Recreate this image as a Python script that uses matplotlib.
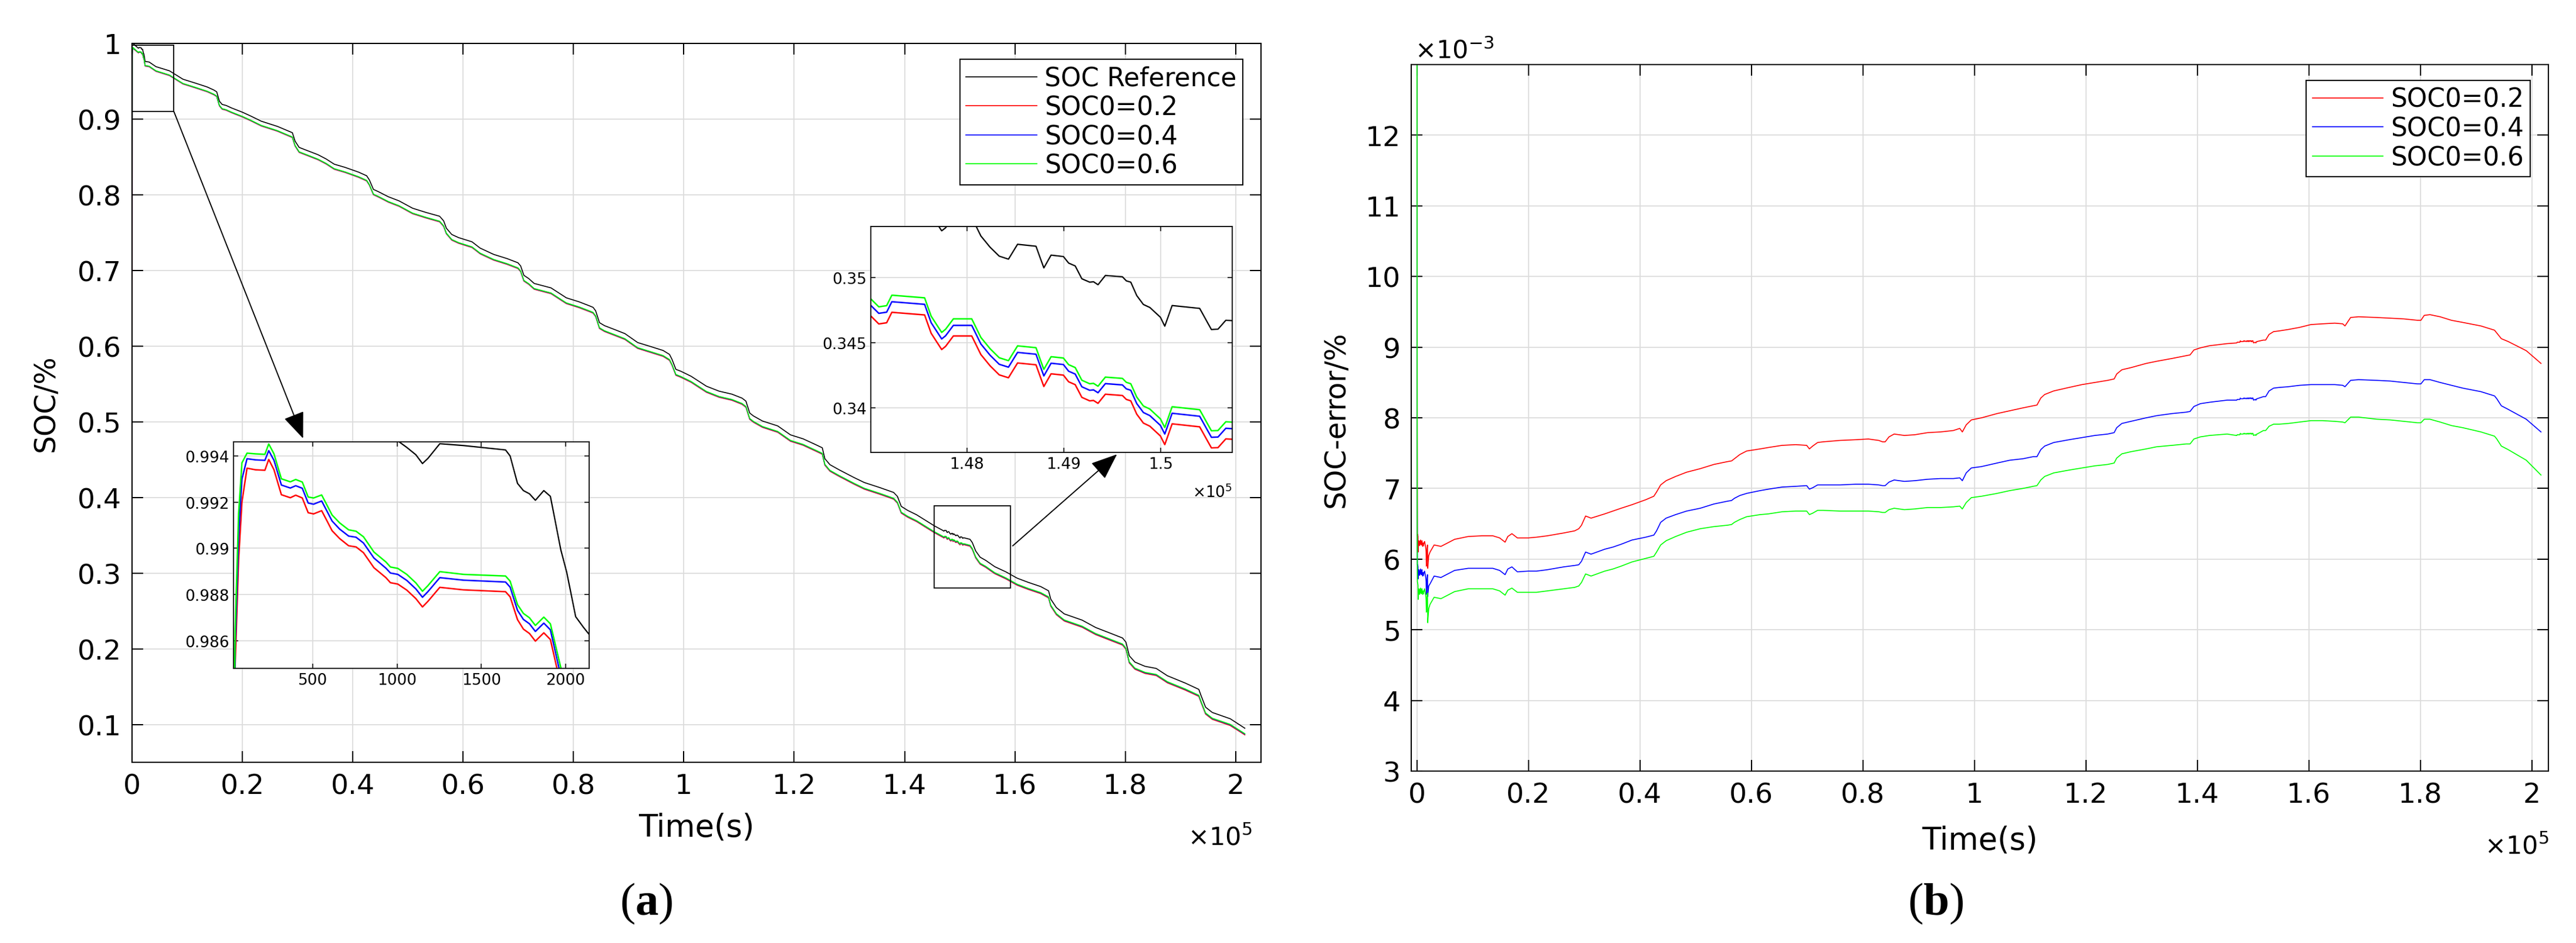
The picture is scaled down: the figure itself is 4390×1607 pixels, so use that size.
import numpy as np
import matplotlib
matplotlib.use("Agg")
import matplotlib.pyplot as plt
from matplotlib.patches import Rectangle
from matplotlib.ticker import FuncFormatter

plt.rcParams['font.family'] = ['DejaVu Sans']
plt.rcParams['mathtext.fontset'] = 'custom'
plt.rcParams['mathtext.bf'] = 'Liberation Serif:bold'

# ---- data ----
# time in seconds (denser inside the two zoomed windows)
time_s = [
    0, 15, 30, 40, 60, 80, 110, 160, 216, 239,
    270, 314, 367, 399, 438, 473, 505, 553, 615, 660,
    713, 757, 801, 863, 934, 961, 1005, 1058, 1112, 1151,
    1183, 1254, 1395, 1644, 1671, 1715, 1750, 1786, 1821, 1871,
    1910, 1972, 2007, 2060, 2105, 2140,
    2374, 3109, 4333, 6781, 9229, 11677, 13635, 14859, 15349, 15838,
    16328, 17062, 18042, 20000, 21469, 23427, 26365, 28323, 29058, 29547,
    30282, 31261, 33709, 35178, 36646, 38605, 41053, 42522, 43011, 43746,
    44725, 46438, 48397, 50845, 53293, 55741, 56475, 56965, 57944, 59168,
    61616, 63085, 65533, 67981, 69939, 70429, 71016, 71898, 72878, 75938,
    78708, 81015, 82862, 83554, 84016, 84708, 85631, 87477, 89324, 91632,
    93939, 96247, 97401, 97863, 98555, 99478, 101325, 104094, 106402, 108710,
    110556, 111248, 111941, 112633, 114248, 117017, 119326, 121632, 123941, 125095,
    125557, 126480, 128096, 130865, 132711, 135481, 138019, 138712, 139404, 140558,
    142200, 145366,
    147011, 147092, 147173, 147227, 147565, 147632, 147741, 147781, 147862, 148051,
    148146, 148241, 148335, 148430, 148524, 148714, 148795, 148870, 148997, 149051,
    149119, 149187, 149268, 149308, 149354, 149430, 149606, 149646, 149692, 149754,
    149822, 149889, 149998, 150043, 150119, 150403, 150524, 150592, 150673, 150741,
    151870, 152276, 152886, 153699, 154715, 156341, 158374, 160407, 162439, 164675,
    166098, 166504, 167520, 168943, 172195, 174634, 177073, 179512, 180122, 180732,
    181748, 183577, 185610, 187642, 190894, 193333, 193740, 194553, 195772, 199024,
    201666,
]

# reference SOC
soc_ref = [
    1.0, 1.0, 0.99995, 0.9999, 0.9999, 0.99985, 0.9998, 0.99975, 0.9997, 0.99995,
    0.99965, 0.99856, 0.99839, 0.99856, 0.99839, 0.99777, 0.99768, 0.99788, 0.99698, 0.99669,
    0.99632, 0.9963, 0.99601, 0.99539, 0.99499, 0.99473, 0.99465, 0.99437, 0.99405, 0.99367,
    0.99389, 0.99453, 0.99445, 0.99426, 0.9940, 0.99281, 0.9925, 0.99236, 0.99208, 0.9925,
    0.99225, 0.98993, 0.98896, 0.98704, 0.98659, 0.98627,
    0.9762, 0.9754, 0.9693, 0.9638, 0.9527, 0.9471, 0.9424, 0.9383, 0.9360, 0.9236,
    0.9194, 0.9180, 0.9147, 0.9091, 0.9042, 0.8972, 0.8903, 0.8842, 0.8820, 0.8709,
    0.8626, 0.8598, 0.8529, 0.8473, 0.8404, 0.8362, 0.8299, 0.8251, 0.8196, 0.8071,
    0.8038, 0.7974, 0.7919, 0.7822, 0.7766, 0.7716, 0.7655, 0.7558, 0.7475, 0.7434,
    0.7378, 0.7295, 0.7212, 0.7156, 0.7101, 0.7059, 0.6935, 0.6892, 0.6828, 0.6769,
    0.6638, 0.6585, 0.6533, 0.6512, 0.6467, 0.6310, 0.6270, 0.6218, 0.6165, 0.6047,
    0.5995, 0.5942, 0.5890, 0.5824, 0.5693, 0.5667, 0.5601, 0.5470, 0.5404, 0.5365,
    0.5312, 0.5273, 0.5115, 0.5076, 0.5010, 0.4945, 0.4827, 0.4774, 0.4696, 0.4656,
    0.4512, 0.4433, 0.4367, 0.4262, 0.4197, 0.4131, 0.4066, 0.4013, 0.3882, 0.3829,
    0.3770, 0.3626,
    0.3561, 0.3555, 0.3556, 0.3564, 0.3562, 0.3548, 0.35357, 0.3538, 0.3546, 0.3546,
    0.35317, 0.35231, 0.35163, 0.3514, 0.35254, 0.35239, 0.35073, 0.35171, 0.3516, 0.3511,
    0.35088, 0.3499, 0.34964, 0.34967, 0.34944, 0.35015, 0.35005, 0.34974, 0.34964, 0.34861,
    0.34793, 0.3477, 0.34695, 0.34627, 0.34785, 0.34763, 0.34601, 0.34604, 0.34672, 0.34669,
    0.3446, 0.3404, 0.3293, 0.3210, 0.3168, 0.3085, 0.3016, 0.2933, 0.2877, 0.2822,
    0.2766, 0.2655, 0.2544, 0.2461, 0.2378, 0.2281, 0.2212, 0.2142, 0.2087, 0.1907,
    0.1824, 0.1768, 0.1740, 0.1643, 0.1546, 0.1463, 0.1380, 0.1228, 0.1158, 0.1075,
    0.0950,
]

# SOC error (reference - estimate), in units of 1e-3
err_soc02 = [
    800, 400, 25.0, 14.9, 10.4, 7.85, 6.33, 6.35, 6.32, 6.10,
    6.25, 6.24, 6.20, 6.26, 6.21, 6.23, 6.19, 6.25, 6.22, 6.27,
    6.21, 6.24, 6.20, 6.23, 6.26, 6.22, 6.20, 6.18, 6.23, 6.21,
    6.19, 6.22, 6.25, 6.14, 6.10, 5.90, 6.00, 6.05, 6.10, 6.16,
    6.20, 5.87, 5.92, 5.98, 6.02, 6.05,
    6.10, 6.20, 6.18, 6.28, 6.32, 6.33, 6.33, 6.30, 6.27, 6.24,
    6.32, 6.36, 6.30, 6.30, 6.31, 6.33, 6.37, 6.40, 6.43, 6.48,
    6.61, 6.58, 6.64, 6.68, 6.72, 6.77, 6.84, 6.89, 6.95, 7.05,
    7.11, 7.17, 7.23, 7.28, 7.34, 7.38, 7.39, 7.42, 7.48, 7.53,
    7.56, 7.58, 7.61, 7.62, 7.61, 7.56, 7.60, 7.65, 7.66, 7.68,
    7.69, 7.70, 7.68, 7.66, 7.66, 7.73, 7.77, 7.75, 7.76, 7.79,
    7.80, 7.82, 7.85, 7.80, 7.90, 7.97, 8.00, 8.06, 8.10, 8.14,
    8.17, 8.18, 8.28, 8.33, 8.38, 8.43, 8.47, 8.50, 8.53, 8.55,
    8.62, 8.68, 8.71, 8.77, 8.80, 8.84, 8.88, 8.89, 8.96, 8.99,
    9.02, 9.05,
    9.06, 9.06, 9.07, 9.07, 9.07, 9.07, 9.09, 9.08, 9.08, 9.08,
    9.08, 9.08, 9.09, 9.08, 9.09, 9.08, 9.08, 9.09, 9.08, 9.09,
    9.09, 9.08, 9.09, 9.09, 9.08, 9.09, 9.09, 9.08, 9.09, 9.08,
    9.08, 9.09, 9.09, 9.07, 9.06, 9.07, 9.06, 9.07, 9.08, 9.08,
    9.10, 9.10, 9.18, 9.22, 9.23, 9.25, 9.28, 9.32, 9.33, 9.34,
    9.33, 9.30, 9.42, 9.43, 9.42, 9.41, 9.40, 9.38, 9.38, 9.45,
    9.46, 9.43, 9.38, 9.35, 9.30, 9.24, 9.20, 9.12, 9.08, 8.95,
    8.77,
]

err_soc04 = [
    600, 300, 23.0, 14.1, 9.4, 6.85, 5.92, 5.92, 5.89, 5.72,
    5.84, 5.82, 5.78, 5.85, 5.79, 5.81, 5.77, 5.83, 5.80, 5.86,
    5.79, 5.82, 5.78, 5.81, 5.85, 5.80, 5.78, 5.76, 5.81, 5.79,
    5.77, 5.80, 5.83, 5.72, 5.68, 5.50, 5.58, 5.63, 5.68, 5.74,
    5.78, 5.47, 5.52, 5.56, 5.60, 5.62,
    5.65, 5.76, 5.74, 5.84, 5.87, 5.87, 5.87, 5.84, 5.81, 5.78,
    5.86, 5.89, 5.82, 5.83, 5.83, 5.85, 5.89, 5.91, 5.92, 5.97,
    6.10, 6.07, 6.14, 6.17, 6.21, 6.27, 6.31, 6.34, 6.40, 6.52,
    6.58, 6.63, 6.68, 6.72, 6.78, 6.82, 6.83, 6.86, 6.90, 6.93,
    6.97, 6.99, 7.02, 7.03, 7.04, 6.99, 7.01, 7.05, 7.05, 7.05,
    7.06, 7.06, 7.05, 7.04, 7.04, 7.09, 7.12, 7.10, 7.11, 7.13,
    7.14, 7.14, 7.15, 7.11, 7.22, 7.29, 7.31, 7.36, 7.40, 7.42,
    7.45, 7.45, 7.55, 7.60, 7.65, 7.69, 7.72, 7.75, 7.77, 7.79,
    7.86, 7.92, 7.95, 8.00, 8.03, 8.06, 8.08, 8.09, 8.16, 8.20,
    8.22, 8.25,
    8.25, 8.25, 8.26, 8.26, 8.26, 8.26, 8.28, 8.27, 8.27, 8.27,
    8.27, 8.27, 8.28, 8.27, 8.28, 8.27, 8.27, 8.28, 8.27, 8.28,
    8.28, 8.27, 8.28, 8.28, 8.27, 8.28, 8.28, 8.27, 8.28, 8.27,
    8.27, 8.28, 8.28, 8.26, 8.25, 8.26, 8.25, 8.26, 8.27, 8.27,
    8.30, 8.30, 8.38, 8.42, 8.43, 8.44, 8.46, 8.47, 8.47, 8.47,
    8.46, 8.44, 8.53, 8.54, 8.53, 8.52, 8.50, 8.48, 8.48, 8.54,
    8.54, 8.50, 8.46, 8.42, 8.37, 8.31, 8.27, 8.17, 8.12, 7.98,
    7.80,
]

err_soc06 = [
    400, 200, 20.0, 13.4, 8.4, 6.15, 5.68, 5.66, 5.63, 5.43,
    5.56, 5.55, 5.51, 5.58, 5.52, 5.55, 5.50, 5.57, 5.54, 5.59,
    5.52, 5.56, 5.51, 5.55, 5.58, 5.54, 5.52, 5.50, 5.55, 5.53,
    5.51, 5.54, 5.58, 5.46, 5.42, 5.25, 5.32, 5.37, 5.42, 5.48,
    5.52, 5.10, 5.16, 5.22, 5.26, 5.30,
    5.36, 5.46, 5.44, 5.54, 5.58, 5.58, 5.58, 5.55, 5.52, 5.49,
    5.56, 5.59, 5.53, 5.53, 5.53, 5.55, 5.58, 5.60, 5.62, 5.67,
    5.79, 5.76, 5.83, 5.86, 5.90, 5.96, 6.01, 6.04, 6.10, 6.20,
    6.26, 6.32, 6.38, 6.43, 6.46, 6.48, 6.49, 6.52, 6.56, 6.60,
    6.63, 6.64, 6.67, 6.68, 6.68, 6.63, 6.65, 6.69, 6.69, 6.68,
    6.68, 6.68, 6.67, 6.66, 6.66, 6.70, 6.72, 6.70, 6.71, 6.73,
    6.73, 6.74, 6.75, 6.71, 6.80, 6.87, 6.89, 6.93, 6.97, 7.00,
    7.03, 7.04, 7.12, 7.17, 7.22, 7.26, 7.29, 7.32, 7.34, 7.36,
    7.43, 7.49, 7.52, 7.56, 7.59, 7.61, 7.63, 7.63, 7.70, 7.73,
    7.75, 7.77,
    7.75, 7.75, 7.76, 7.76, 7.76, 7.76, 7.78, 7.77, 7.77, 7.77,
    7.77, 7.77, 7.78, 7.77, 7.78, 7.77, 7.77, 7.78, 7.77, 7.78,
    7.78, 7.77, 7.78, 7.78, 7.77, 7.78, 7.78, 7.77, 7.78, 7.77,
    7.77, 7.78, 7.78, 7.76, 7.75, 7.76, 7.75, 7.76, 7.77, 7.77,
    7.82, 7.82, 7.88, 7.91, 7.91, 7.92, 7.94, 7.96, 7.96, 7.95,
    7.94, 7.93, 8.01, 8.01, 7.98, 7.97, 7.95, 7.93, 7.93, 7.98,
    7.98, 7.94, 7.89, 7.86, 7.80, 7.74, 7.70, 7.60, 7.55, 7.40,
    7.19,
]

labels = ['SOC0=0.2', 'SOC0=0.4', 'SOC0=0.6']
colors = ['#ff0000', '#0000ff', '#00ff00']

# zoom windows shown in the two insets of panel (a)
inset1_xlim, inset1_ylim = (30, 2140), (0.9848, 0.9946)
inset2_xlim, inset2_ylim = (147010, 150740), (0.3366, 0.3539)

assert len(time_s) == len(soc_ref) == len(err_soc02) == len(err_soc04) == len(err_soc06)

t = np.array(time_s, dtype=float)
ref = np.array(soc_ref)
errs = [np.array(e) for e in (err_soc02, err_soc04, err_soc06)]
# estimated SOC curves of panel (a): reference minus the plotted error
estimates = [ref - e / 1000.0 for e in errs]

W, H = 4390, 1608
fig = plt.figure(figsize=(W / 100, H / 100), dpi=100)


def px_rect(left, top, right, bottom):
    return [left / W, 1 - bottom / H, (right - left) / W, (bottom - top) / H]


def style(ax, size, length, width, pad, spine):
    ax.grid(True, color='#dcdcdc', linewidth=1.3)
    ax.set_axisbelow(True)
    ax.tick_params(direction='in', top=True, right=True, length=length,
                   width=width, labelsize=size, pad=pad)
    for s in ax.spines.values():
        s.set_linewidth(spine)


sci5 = FuncFormatter(lambda v, p: f'{v / 1e5:g}')
plain = FuncFormatter(lambda v, p: f'{v:g}')

# ---- panel (a) ----
ax_a = fig.add_axes(px_rect(225, 75, 2149, 1300))
ax_a.plot(t, ref, color='black', lw=1.2, label='SOC Reference')
for est, lab, col in zip(estimates, labels, colors):
    ax_a.plot(t, est, color=col, lw=1.2, label=lab)
ax_a.set_xlim(0, 204600)
ax_a.set_ylim(0.05, 1.0)
ax_a.set_xticks(np.arange(0, 200001, 20000))
ax_a.set_yticks(np.arange(0.1, 1.001, 0.1))
ax_a.xaxis.set_major_formatter(sci5)
ax_a.yaxis.set_major_formatter(plain)
style(ax_a, 34, 13.5, 1.5, 13, 1.5)

leg = ax_a.legend(loc='upper right', bbox_to_anchor=(0.984, 0.978), fontsize=31.5,
                  handlelength=2.75, handletextpad=0.3, labelspacing=0.15,
                  borderpad=0.25, borderaxespad=0, fancybox=False,
                  edgecolor='black', framealpha=1)
leg.get_frame().set_linewidth(1.5)

# zoom boxes and arrows
ax_a.add_patch(Rectangle((0, 0.9097), 7600, 0.0883, fill=False, ec='black', lw=1.3, zorder=4))
ax_a.add_patch(Rectangle((145400, 0.280), 13800, 0.109, fill=False, ec='black', lw=1.3, zorder=4))
arrow = dict(arrowstyle='-|>,head_length=0.7,head_width=0.28', mutation_scale=40,
             lw=1.4, color='black', shrinkA=0, shrinkB=0)
ax_a.annotate('', xy=(31000, 0.478), xytext=(7600, 0.9097), arrowprops=arrow)
ax_a.annotate('', xy=(178500, 0.457), xytext=(159600, 0.336), arrowprops=arrow)

ins1 = ax_a.inset_axes([0.0899, 0.1306, 0.315, 0.3148])
ins2 = ax_a.inset_axes([0.6544, 0.431, 0.3202, 0.3143])
for ins in (ins1, ins2):
    ins.plot(t, ref, color='black', lw=1.6)
    for est, col in zip(estimates, colors):
        ins.plot(t, est, color=col, lw=1.8)
    style(ins, 19, 5.5, 1.1, 5, 1.3)
ins1.set_xlim(*inset1_xlim)
ins1.set_ylim(*inset1_ylim)
ins1.set_xticks([500, 1000, 1500, 2000])
ins1.set_yticks([0.986, 0.988, 0.99, 0.992, 0.994])
ins1.yaxis.set_major_formatter(plain)
ins2.set_xlim(*inset2_xlim)
ins2.set_ylim(*inset2_ylim)
ins2.set_xticks([148000, 149000, 150000])
ins2.set_yticks([0.34, 0.345, 0.35])
ins2.xaxis.set_major_formatter(sci5)
ins2.yaxis.set_major_formatter(plain)

# ---- panel (b) ----
ax_b = fig.add_axes(px_rect(2405, 111, 4343, 1315))
for e, lab, col in zip(errs, labels, colors):
    ax_b.plot(t, e, color=col, lw=1.2, label=lab)
ax_b.set_xlim(-1000, 203000)
ax_b.set_ylim(3, 13)
ax_b.set_xticks(np.arange(0, 200001, 20000))
ax_b.set_yticks(np.arange(3, 13))
ax_b.xaxis.set_major_formatter(sci5)
ax_b.yaxis.set_major_formatter(plain)
style(ax_b, 34, 13.5, 1.5, 13, 1.5)
leg_b = ax_b.legend(loc='upper right', bbox_to_anchor=(0.984, 0.9776), fontsize=31.5,
                    handlelength=2.75, handletextpad=0.3, labelspacing=0.15,
                    borderpad=0.25, borderaxespad=0, fancybox=False,
                    edgecolor='black', framealpha=1)
leg_b.get_frame().set_linewidth(1.5)

# ---- labels ----
fig.text(1187 / W, 1 - 1411 / H, 'Time(s)', ha='center', va='center', fontsize=38)
fig.text(3374 / W, 1 - 1432 / H, 'Time(s)', ha='center', va='center', fontsize=38)
fig.text(78 / W, 1 - 687 / H, 'SOC/%', rotation=90, ha='center', va='center', fontsize=35)
fig.text(2277 / W, 1 - 715 / H, 'SOC-error/%', rotation=90, ha='center', va='center', fontsize=35)
fig.text(2134 / W, 1 - 1440 / H, r'$\mathregular{\times10^{5}}$', ha='right', va='baseline', fontsize=31)
fig.text(4344 / W, 1 - 1455 / H, r'$\mathregular{\times10^{5}}$', ha='right', va='baseline', fontsize=31)
fig.text(2411 / W, 1 - 100 / H, r'$\mathregular{\times10^{-3}}$', ha='left', va='baseline', fontsize=31)
fig.text(2100 / W, 1 - 848 / H, r'$\mathregular{\times10^{5}}$', ha='right', va='baseline', fontsize=19)
fig.text(1101 / W, 1 - 1540 / H, r'($\mathbf{a}$)', family='Liberation Serif',
         ha='center', va='center', fontsize=57)
fig.text(3299 / W, 1 - 1540 / H, r'($\mathbf{b}$)', family='Liberation Serif',
         ha='center', va='center', fontsize=57)

fig.savefig('out.png', dpi=100, facecolor='white')
